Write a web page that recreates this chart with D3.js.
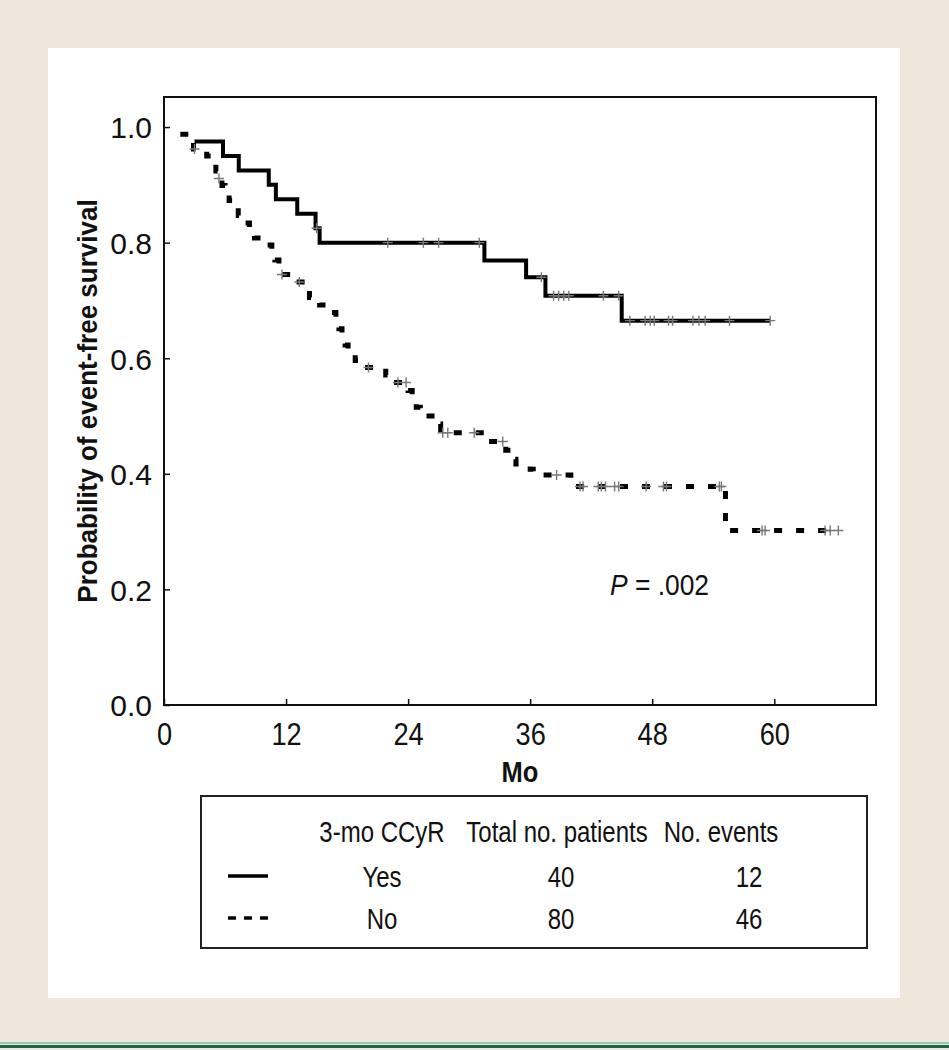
<!DOCTYPE html>
<meta charset="utf-8">
<head>
  <title>Event-free survival by 3-mo CCyR</title>
</head>

<style>
body {
  margin: 0;
  background: #efe7dc;
}
text {
  font-family: "Liberation Sans", Arial, Helvetica, sans-serif;
  fill: #111;
}
</style>

<body>
  <svg id="chart" width="949" height="1050"></svg>

<script src="https://cdnjs.cloudflare.com/ajax/libs/d3/7.8.5/d3.min.js"></script>
<script>
// Kaplan-Meier steps: [month, survival after the drop]
var yesSteps = [[3.0,0.975],[5.8,0.95],[7.35,0.925],[10.3,0.90],[11.0,0.875],[13.1,0.85],
  [14.9,0.825],[15.3,0.80],[31.5,0.769],[35.6,0.74],[37.5,0.708],[45.0,0.665]];
var yesEnd = 59.6;
var yesCensor = [15.0,22.0,25.5,27.0,31.0,37.1,38.3,38.8,39.3,39.8,43.2,44.7,45.8,47.3,47.8,
  48.2,49.6,50.0,52.0,52.6,53.2,55.6,59.6];

var noSteps = [[1.6,0.9875],[2.4,0.975],[2.9,0.962],[4.2,0.95],[4.8,0.937],[5.1,0.924],[5.3,0.911],
  [5.7,0.899],[6.0,0.886],[6.4,0.873],[6.8,0.86],[7.3,0.847],[7.8,0.834],[8.4,0.821],[8.9,0.808],
  [9.7,0.796],[10.6,0.783],[10.9,0.77],[11.3,0.757],[11.5,0.745],[12.8,0.732],[13.9,0.718],
  [14.3,0.705],[15.3,0.692],[16.5,0.679],[16.9,0.665],[17.2,0.651],[17.5,0.637],[17.8,0.623],
  [18.1,0.609],[18.8,0.596],[19.4,0.584],[21.8,0.571],[22.1,0.558],[24.0,0.544],[24.4,0.530],
  [24.8,0.515],[25.2,0.500],[26.6,0.486],[27.2,0.471],[31.5,0.456],[33.6,0.441],[34.2,0.425],
  [34.6,0.417],[36.0,0.408],[36.3,0.398],[40.0,0.378],[55.2,0.302]];
var noEnd = 66.3;
var noCensor = [3.0,5.4,11.6,13.3,20.1,23.0,23.8,27.4,27.9,30.5,33.3,38.6,40.9,41.2,42.7,43.0,
  43.4,44.3,44.7,47.4,49.1,49.4,54.6,54.8,58.8,59.1,65.0,65.5,66.3];

var xTicks = [0, 12, 24, 36, 48, 60];
var yTicks = [0, 0.2, 0.4, 0.6, 0.8, 1.0];

var legendHead = ["3-mo CCyR", "Total no. patients", "No. events"];
var legendGroup = ["Yes", "No"];
var legendPatients = [40, 80];
var legendEvents = [12, 46];
var legendDash = [null, "8,8"];
var pText = ".002";

var svg = d3.select("#chart");

// helvetica condensed look: arial squeezed sideways
function condText(g, x0, y0, size, sq) {
  return g.append("text")
    .attr("transform", "translate(" + x0 + "," + y0 + ") scale(" + sq + ",1)")
    .attr("font-size", size);
}

// page background, white panel, green rule at the bottom
svg.append("rect").attr("width", 949).attr("height", 1050).attr("fill", "#efe7dc");
svg.append("rect").attr("x", 48).attr("y", 48).attr("width", 852).attr("height", 950)
  .attr("fill", "#fff");
svg.append("rect").attr("x", 0).attr("y", 1042).attr("width", 949).attr("height", 2)
  .attr("fill", "#9cc3ad");
svg.append("rect").attr("x", 0).attr("y", 1045).attr("width", 949).attr("height", 3)
  .attr("fill", "#17684a");

var plotL = 164, plotR = 876, plotT = 97, plotB = 705;

var x = d3.scaleLinear().domain([0, 70]).range([plotL, plotR]);
var y = d3.scaleLinear().domain([0, 1.052]).range([plotB, plotT]);

// frame
svg.append("rect")
  .attr("x", plotL).attr("y", plotT)
  .attr("width", plotR - plotL).attr("height", plotB - plotT)
  .attr("fill", "none").attr("stroke", "#111").attr("stroke-width", 2);

// axes with inward ticks
var xAxis = d3.axisBottom(x).tickValues(xTicks).tickSizeInner(-6).tickSizeOuter(0);
var gx = svg.append("g").attr("transform", "translate(0," + plotB + ")").call(xAxis)
  .attr("font-family", null).attr("font-size", null);
gx.select(".domain").remove();
gx.selectAll("line").attr("stroke", "#111").attr("stroke-width", 1.5);
gx.selectAll("text")
  .attr("font-size", 32).attr("fill", "#111")
  .attr("y", 40).attr("dy", null)
  .attr("transform", "scale(0.85,1)");

var yAxis = d3.axisLeft(y).tickValues(yTicks).tickSizeInner(-6).tickSizeOuter(0)
  .tickPadding(12).tickFormat(d3.format(".1f"));
var gy = svg.append("g").attr("transform", "translate(" + plotL + ",0)").call(yAxis)
  .attr("font-family", null).attr("font-size", null);
gy.select(".domain").remove();
gy.selectAll("line").attr("stroke", "#111").attr("stroke-width", 1.5);
gy.selectAll("text").attr("font-size", 30).attr("fill", "#111").attr("dy", "0.36em");

// axis titles
condText(svg, (plotL + plotR) / 2, 782, 30, 0.85)
  .attr("text-anchor", "middle").attr("font-weight", "bold")
  .text("Mo");

svg.append("text")
  .attr("transform", "translate(97," + (plotT + plotB) / 2 + ") rotate(-90) scale(0.93,1)")
  .attr("text-anchor", "middle")
  .attr("font-size", 28).attr("font-weight", "bold")
  .text("Probability of event-free survival");

// survival curves
function stepPoints(steps, end) {
  var pts = steps.slice();
  pts.push([end, steps[steps.length - 1][1]]);
  return pts;
}

function levelAt(steps, t) {
  var v = steps[0][1];
  steps.forEach(function(s) { if (s[0] <= t) v = s[1]; });
  return v;
}

var line = d3.line()
  .x(function(d) { return x(d[0]); })
  .y(function(d) { return y(d[1]); })
  .curve(d3.curveStepAfter);

svg.append("path")
  .datum(stepPoints(noSteps, noEnd))
  .attr("d", line)
  .attr("fill", "none").attr("stroke", "#000").attr("stroke-width", 5)
  .attr("stroke-dasharray", "8,14");

svg.append("path")
  .datum(stepPoints(yesSteps, yesEnd))
  .attr("d", line)
  .attr("fill", "none").attr("stroke", "#000").attr("stroke-width", 4);

// censor marks
function drawCensor(times, steps) {
  svg.append("g").selectAll("path")
    .data(times)
    .enter().append("path")
    .attr("transform", function(t) {
      return "translate(" + x(t) + "," + y(levelAt(steps, t)) + ")";
    })
    .attr("d", "M-5,0H5M0,-5V5")
    .attr("stroke", "#777").attr("stroke-width", 1.4).attr("fill", "none");
}
drawCensor(yesCensor, yesSteps);
drawCensor(noCensor, noSteps);

// P value
var p = condText(svg, 610, 595, 30, 0.88);
p.append("tspan").attr("font-style", "italic").text("P");
p.append("tspan").text(" = " + pText);

// legend table
svg.append("rect")
  .attr("x", 201).attr("y", 796).attr("width", 666).attr("height", 152)
  .attr("fill", "#fff").attr("stroke", "#222").attr("stroke-width", 2);

var colX = [382, 557, 721];
var valX = [382, 561, 749];

legendHead.forEach(function(h, i) {
  condText(svg, colX[i], 842, 30, 0.8).attr("text-anchor", "middle").text(h);
});

legendGroup.forEach(function(gname, i) {
  var rowY = 887 + i * 42;
  svg.append("line")
    .attr("x1", 228).attr("x2", 268).attr("y1", rowY - 11).attr("y2", rowY - 11)
    .attr("stroke", "#000").attr("stroke-width", 3.5)
    .attr("stroke-dasharray", legendDash[i]);
  [gname, legendPatients[i], legendEvents[i]].forEach(function(v, j) {
    condText(svg, valX[j], rowY, 30, 0.8).attr("text-anchor", "middle").text(v);
  });
});
</script>
</body>
</html>
